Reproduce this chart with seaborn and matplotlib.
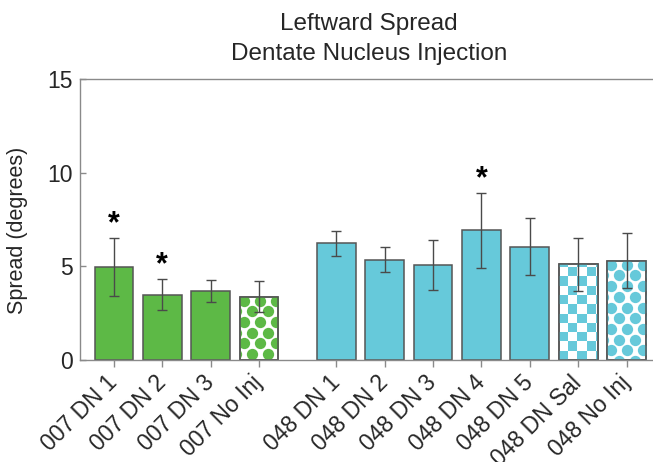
import numpy as np
import pandas as pd
import matplotlib
matplotlib.use("Agg")
import matplotlib.pyplot as plt
import matplotlib.transforms as mtransforms
import seaborn as sns
from matplotlib.patches import Rectangle
from matplotlib.collections import PatchCollection

# Per-condition mean leftward spread (degrees) and error (SEM)
labels = ["007 DN 1", "007 DN 2", "007 DN 3", "007 No Inj",
          "048 DN 1", "048 DN 2", "048 DN 3", "048 DN 4", "048 DN 5",
          "048 DN Sal", "048 No Inj"]
subject = ["007"] * 4 + ["048"] * 7
spread = [4.95, 3.49, 3.67, 3.38, 6.23, 5.36, 5.09, 6.92, 6.05, 5.10, 5.30]
sem = [1.56, 0.83, 0.58, 0.82, 0.66, 0.66, 1.33, 2.00, 1.52, 1.40, 1.47]
significant = [True, True, False, False, False, False, False, True,
               False, False, False]
fill = ["solid", "solid", "solid", "dots",
        "solid", "solid", "solid", "solid", "solid", "checker", "dots"]
yticks = [0, 5, 10, 15]

GREEN = "#5DB946"
CYAN = "#66C9DA"
EDGE = "#555555"
SPINE = "#8a8a8a"
TEXT = "#262626"
palette = {"007": GREEN, "048": CYAN}

# bar positions: a wider gap separates the two subjects
GROUP_GAP = 0.6
positions = [i + (GROUP_GAP if s == "048" else 0.0) for i, s in enumerate(subject)]

df = pd.DataFrame({"pos": positions, "spread": spread, "sem": sem,
                   "label": labels, "subject": subject})

sns.set_style("ticks")
plt.rcParams["font.family"] = ["Liberation Sans", "DejaVu Sans"]
plt.rcParams["text.color"] = TEXT
plt.rcParams["axes.labelcolor"] = TEXT
plt.rcParams["xtick.color"] = SPINE
plt.rcParams["ytick.color"] = SPINE
plt.rcParams["xtick.labelcolor"] = TEXT
plt.rcParams["ytick.labelcolor"] = TEXT

W, H = 653, 462
fig = plt.figure(figsize=(W / 100, H / 100), dpi=100)
fig.patch.set_facecolor("white")
# axes box in pixels: left 80, right 658, top 79, bottom 360
ax = fig.add_axes([80 / W, 1 - 360 / H, (658 - 80) / W, (360 - 79) / H])

sns.barplot(data=df, x="pos", y="spread", hue="subject", palette=palette,
            native_scale=True, dodge=False, errorbar=None, legend=False,
            width=0.8, edgecolor=EDGE, linewidth=1.1, saturation=1, ax=ax)

xmin, xmax = -0.70, 11.25
ax.set_xlim(xmin, xmax)
ax.set_ylim(0, 15)

# pixel scale of the data units
ppu_x = ax.bbox.width / (xmax - xmin)
ppu_y = ax.bbox.height / 15.0

bars = list(ax.patches)


def bar_at(x):
    return min(bars, key=lambda p: abs(p.get_x() + p.get_width() / 2 - x))


for x, val, kind, subj in zip(positions, spread, fill, subject):
    if kind == "solid":
        continue
    bar = bar_at(x)
    color = palette[subj]
    bar.set_facecolor("white")
    x0, bw = bar.get_x(), bar.get_width()
    top = bar.get_height()
    if kind == "dots":
        dx, dy = 16 / ppu_x, 10.7 / ppu_y
        xs, ys = [], []
        r = 0
        y = top - 4 / ppu_y
        while y > -dy:
            off = (4 if r % 2 == 0 else 12) / ppu_x
            xx = x0 + off - dx
            while xx < x0 + bw + dx:
                xs.append(xx)
                ys.append(y)
                xx += dx
            y -= dy
            r += 1
        sc = ax.scatter(xs, ys, s=(11.3 * 0.72) ** 2, color=color,
                        linewidths=0, zorder=1.5)
        sc.set_clip_path(bar)
    else:
        cw, ch = 9.3 / ppu_x, 9.3 / ppu_y
        cells = []
        nx = int(np.ceil(bw / cw)) + 1
        ny = int(np.ceil(top / ch)) + 1
        for i in range(nx):
            for j in range(ny):
                if (i + j) % 2 == 0:
                    cells.append(Rectangle((x0 + i * cw, j * ch), cw, ch))
        pc = PatchCollection(cells, facecolor=color, edgecolor="none",
                             zorder=1.5)
        ax.add_collection(pc)
        pc.set_clip_path(bar)
    ax.add_patch(Rectangle((x0, 0), bw, top, fill=False, edgecolor=EDGE,
                           linewidth=1.1, zorder=2))

ax.errorbar(positions, spread, yerr=sem, fmt="none", ecolor="#4a4a4a",
            elinewidth=1.0, capsize=3.8, capthick=1.0, zorder=3)

for x, val, err, sig in zip(positions, spread, sem, significant):
    if sig:
        ax.text(x, val + err + 0.72, "*", ha="center", va="center",
                fontsize=22, fontweight="bold", color="black")

ax.set_xticks(positions)
ax.set_xticklabels(labels, rotation=45, ha="right", va="center",
                   rotation_mode="anchor", fontsize=16.5)
shift = mtransforms.ScaledTranslation(3 / 100, 0, fig.dpi_scale_trans)
for lab in ax.get_xticklabels():
    lab.set_transform(lab.get_transform() + shift)
ax.set_yticks(yticks)
ax.set_yticklabels([str(t) for t in yticks], fontsize=16.5)
ax.tick_params(axis="x", direction="out", length=5, width=1, pad=9)
ax.tick_params(axis="y", direction="in", length=4, width=1, pad=5)
ax.set_xlabel("")
ax.set_ylabel("Spread (degrees)", fontsize=15.5)
ax.yaxis.set_label_coords(-0.09, 0.46)

for side in ["left", "top", "bottom"]:
    ax.spines[side].set_visible(True)
    ax.spines[side].set_color(SPINE)
    ax.spines[side].set_linewidth(1.0)
ax.spines["right"].set_visible(False)

ax.set_title("Leftward Spread\nDentate Nucleus Injection", fontsize=17.5,
             linespacing=1.45, pad=14, color=TEXT)

fig.savefig("out.png", dpi=100, facecolor="white")
